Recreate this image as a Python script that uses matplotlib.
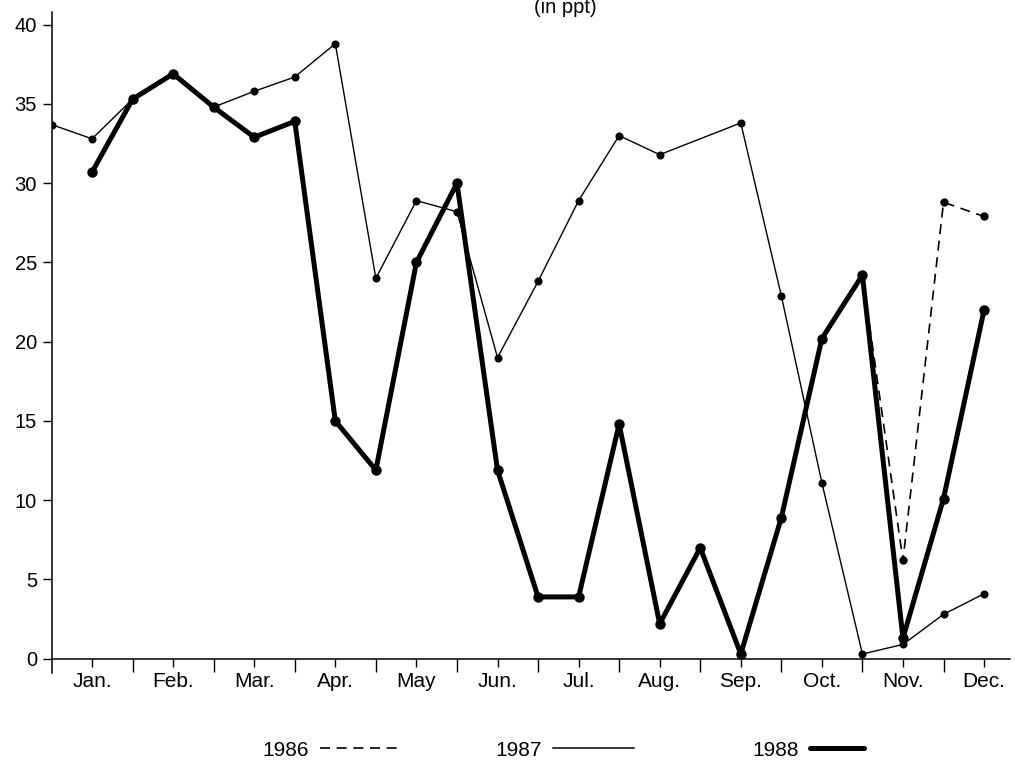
import matplotlib
matplotlib.use("Agg")
import matplotlib.pyplot as plt
from matplotlib.lines import Line2D
import numpy as np

plt.rcParams['font.family'] = ['Liberation Sans', 'DejaVu Sans']

# ---- data (x = half-month index; odd indices are mid-month label positions) ----
months = ["Jan.", "Feb.", "Mar.", "Apr.", "May", "Jun.", "Jul.", "Aug.", "Sep.", "Oct.", "Nov.", "Dec."]
month_pos = [1, 3, 5, 7, 9, 11, 13, 15, 17, 19, 21, 23]
half_pos = [2, 4, 6, 8, 10, 12, 14, 16, 18, 20, 22]

x1986 = [20, 21, 22, 23]
y1986 = [24.2, 6.2, 28.8, 27.9]

x1987 = [0, 1, 2, 3, 4, 5, 6, 7, 8, 9, 10, 11, 12, 13, 14, 15, 17, 18, 19, 20, 21, 22, 23]
y1987 = [33.7, 32.8, 35.3, 36.9, 34.8, 35.8, 36.7, 38.8, 24.0, 28.9, 28.2, 19.0, 23.8,
         28.9, 33.0, 31.8, 33.8, 22.9, 11.1, 0.3, 0.9, 2.8, 4.1]

x1988 = [1, 2, 3, 4, 5, 6, 7, 8, 9, 10, 11, 12, 13, 14, 15, 16, 17, 18, 19, 20, 21, 22, 23]
y1988 = [30.7, 35.3, 36.9, 34.8, 32.9, 33.9, 15.0, 11.9, 25.0, 30.0, 11.9, 3.9, 3.9,
         14.8, 2.2, 7.0, 0.3, 8.9, 20.2, 24.2, 1.3, 10.1, 22.0]

y_ticks = [0, 5, 10, 15, 20, 25, 30, 35, 40]
series_labels = ["1986", "1987", "1988"]

W, H = 1015, 766
fig = plt.figure(figsize=(W / 100, H / 100), dpi=100)
ax = fig.add_axes([51.5 / W, 1 - 673 / H, (1010 - 51.5) / W, (673 - 12) / H])

ax.plot(x1986, y1986, color='black', lw=1.2, dashes=(6, 4), marker='o', ms=5,
        solid_joinstyle='round', zorder=2)
ax.plot(x1987, y1987, color='black', lw=1.0, marker='o', ms=4.8,
        solid_joinstyle='round', zorder=3)
ax.plot(x1988, y1988, color='black', lw=3.6, marker='o', ms=6.5,
        solid_joinstyle='round', solid_capstyle='round', zorder=4)

ax.set_xlim(0, 23.64)
ax.set_ylim(-0.9, 40.8)

for s in ['top', 'right']:
    ax.spines[s].set_visible(False)
ax.spines['bottom'].set_position(('data', 0))
ax.spines['left'].set_linewidth(1.1)
ax.spines['bottom'].set_linewidth(1.1)

ax.set_xticks(month_pos)
ax.set_xticklabels(months, fontsize=15)
ax.set_xticks(half_pos, minor=True)
ax.tick_params(axis='x', which='major', direction='out', length=5.8, width=1.0, pad=4)
ax.tick_params(axis='x', which='minor', direction='out', length=9.4, width=1.0)

ax.set_yticks(y_ticks)
ax.set_yticklabels([str(v) for v in y_ticks], fontsize=14.5)
ax.tick_params(axis='y', direction='out', length=6.5, width=1.0, pad=4)

fig.text(565 / W, 1.0 + 2 / H, "(in ppt)", ha='center', va='top', fontsize=14.5)

# legend entries: label text followed by line sample
handles = [
    Line2D([], [], color='black', lw=1.2, dashes=(6, 4)),
    Line2D([], [], color='black', lw=1.1),
    Line2D([], [], color='black', lw=3.6, solid_capstyle='round'),
]
left_px = [262, 495, 752]
hlen = [4.0, 3.9, 2.6]
for h, lab, lx, hl in zip(handles, series_labels, left_px, hlen):
    fig.legend(handles=[h], labels=[lab], loc='center left',
               bbox_to_anchor=(lx / W, 1 - 750 / H), bbox_transform=fig.transFigure,
               frameon=False, markerfirst=False, handlelength=hl, handletextpad=0.55,
               borderpad=0, borderaxespad=0, fontsize=15)

fig.savefig("out.png", dpi=100)
